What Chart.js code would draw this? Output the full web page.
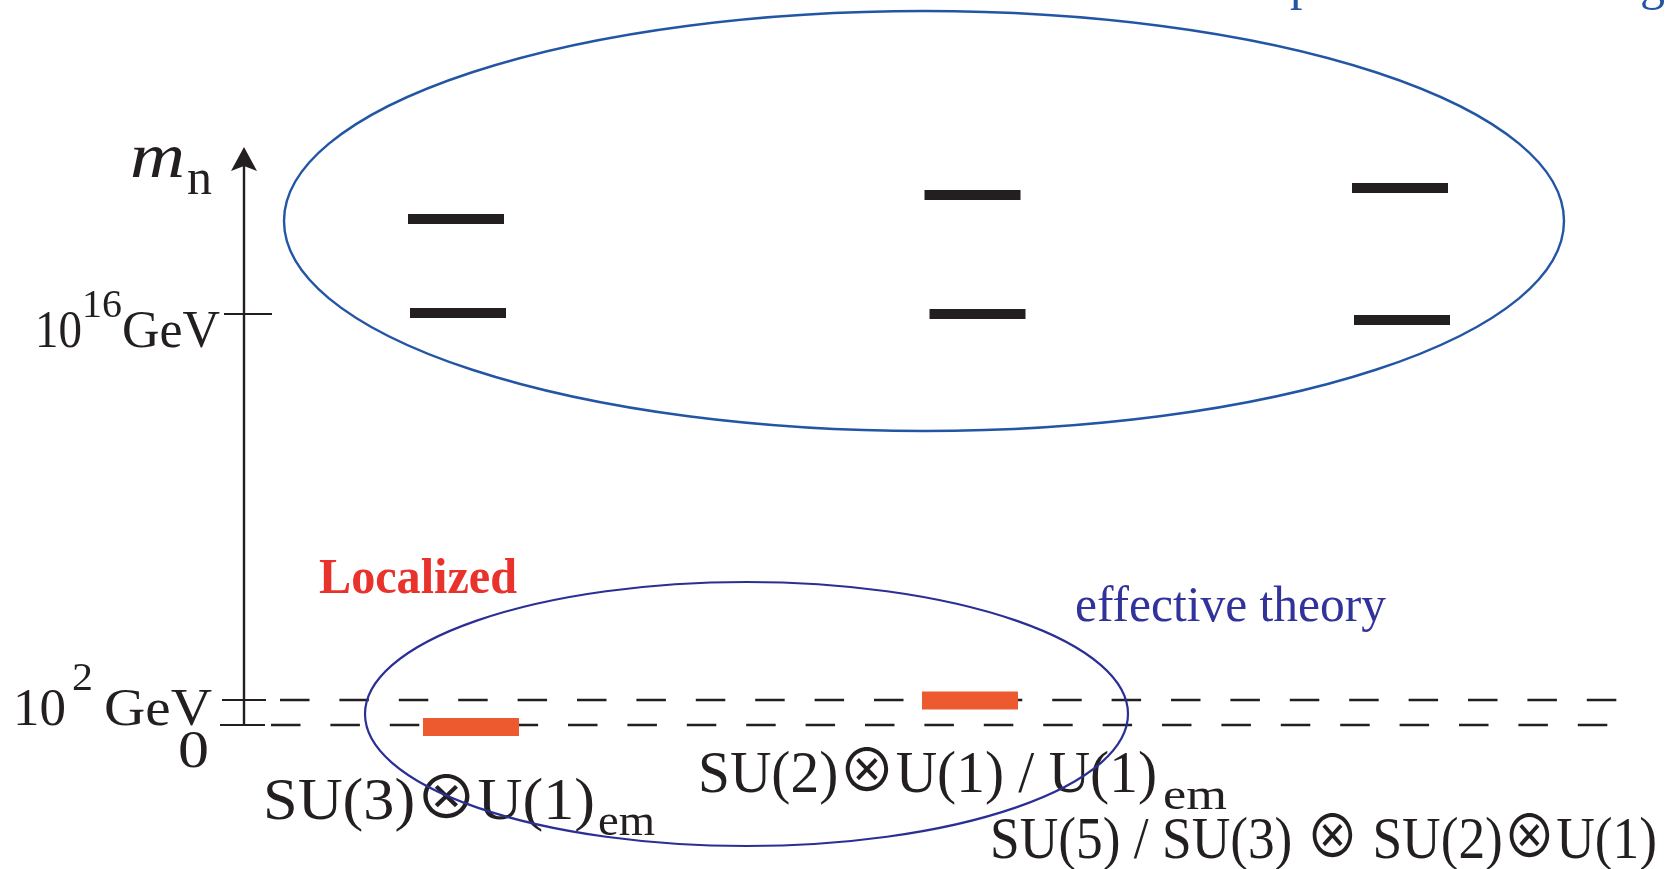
<!DOCTYPE html>
<html>
<head>
<meta charset="utf-8">
<script src="https://cdn.jsdelivr.net/npm/chart.js@4"></script>
<style>
  html, body { margin: 0; padding: 0; background: #ffffff; overflow: hidden; }
  #wrap { width: 1665px; height: 869px; }
</style>
</head>
<body>
<div id="wrap"><canvas id="c" width="1665" height="869"></canvas></div>
<script>
// ---------- DATA (schematic mass levels; y = level units above m = 0) ----------
const columns = ['SU(3)⊗U(1)em', 'SU(2)⊗U(1) / U(1)em', 'SU(5) / SU(3)⊗SU(2)⊗U(1)'];
const heavyUpperX = [456, 972.5, 1400];
const heavyUpperLevel = [506, 530, 537];
const heavyLowerX = [458, 977.5, 1402];
const heavyLowerLevel = [412, 411, 405];
const lightX = [471, 970];
const lightLevel = [-2, 24.5];
const tickLevels = [0, 25, 411];
const tickLabels = ['0', '10^2 GeV', '10^16GeV'];
const barHalfLength = 48;

// ---------- helpers ----------
function seg(cx, lvl, half) { return [{x: cx - half, y: lvl}, {x: cx + half, y: lvl}]; }
const INK = '#231f20';
const datasets = [];
lightX.forEach((cx, i) => datasets.push({
  data: seg(cx, lightLevel[i], barHalfLength), borderColor: '#ee5a2f', borderWidth: 18,
  borderCapStyle: 'butt', pointRadius: 0, order: 0
}));
heavyUpperX.forEach((cx, i) => datasets.push({
  data: seg(cx, heavyUpperLevel[i], barHalfLength), borderColor: INK, borderWidth: 10,
  borderCapStyle: 'butt', pointRadius: 0, order: 1
}));
heavyLowerX.forEach((cx, i) => datasets.push({
  data: seg(cx, heavyLowerLevel[i], barHalfLength), borderColor: INK, borderWidth: 10,
  borderCapStyle: 'butt', pointRadius: 0, order: 1
}));
// dashed reference lines at 0 and 10^2 GeV
datasets.push({ data: [{x: 280, y: tickLevels[1]}, {x: 1620, y: tickLevels[1]}], borderColor: INK,
  borderWidth: 2.5, borderDash: [29.5, 29.9], borderCapStyle: 'butt', pointRadius: 0, order: 5 });
datasets.push({ data: [{x: 271, y: tickLevels[0]}, {x: 1610, y: tickLevels[0]}], borderColor: INK,
  borderWidth: 2.5, borderDash: [29.5, 29.9], borderCapStyle: 'butt', pointRadius: 0, order: 5 });
// solid tick marks on the axis
[[220, 265, 0], [222, 266, 1], [224, 272, 2]].forEach(t => datasets.push({
  data: [{x: t[0], y: tickLevels[t[2]]}, {x: t[1], y: tickLevels[t[2]]}], borderColor: INK,
  borderWidth: 2.2, pointRadius: 0, order: 4 }));

const ellipses = [
  { cx: 924, cy: 504, rx: 640, ry: 210, color: '#2355a5', width: 2.4 },
  { cx: 746.5, cy: 11, rx: 381.5, ry: 132, color: '#2b2f94', width: 2.2 }
];

const SERIF = '"Liberation Serif", "Noto Sans CJK JP", "DejaVu Serif", serif';
const texts = [
  { t: 'm', x: 130, y: 177, font: 'italic 64px ' + SERIF, w: 55, c: INK },
  { t: 'n', x: 187, y: 194, font: '50px ' + SERIF, w: 25, c: INK },
  { t: '10', x: 35, y: 347, font: '53px ' + SERIF, w: 47, c: INK },
  { t: '16', x: 82, y: 317, font: '40px ' + SERIF, w: 40, c: INK },
  { t: 'GeV', x: 122, y: 347, font: '53px ' + SERIF, w: 98, c: INK },
  { t: '10', x: 13, y: 725, font: '53px ' + SERIF, w: 53, c: INK },
  { t: '2', x: 72, y: 690, font: '40px ' + SERIF, w: 21, c: INK },
  { t: 'GeV', x: 104, y: 725, font: '53px ' + SERIF, w: 108, c: INK },
  { t: '0', x: 178, y: 767, font: '53px ' + SERIF, w: 31, c: INK },
  { t: 'SU(3)⊗U(1)', x: 263, y: 819, font: '60px ' + SERIF, w: 332, c: INK },
  { t: 'em', x: 598, y: 835, font: '44px ' + SERIF, w: 57, c: INK },
  { t: 'SU(2)⊗U(1) / U(1)', x: 698, y: 792, font: '60px ' + SERIF, w: 459, c: INK },
  { t: 'em', x: 1163, y: 809, font: '44px ' + SERIF, w: 64, c: INK },
  { t: 'SU(5) / SU(3) ⊗ SU(2)⊗U(1)', x: 990, y: 858, font: '60px ' + SERIF, w: 667, c: INK },
  { t: 'Localized', x: 319, y: 593, font: 'bold 50px ' + SERIF, w: 198, c: '#e8322b' },
  { t: 'effective theory', x: 1075, y: 621, font: '50px ' + SERIF, w: 311, c: '#32339a' },
  { t: 'p', x: 1290, y: -1, font: '50px ' + SERIF, w: 25, c: '#2355a5' },
  { t: 'g', x: 1640, y: -1, font: '50px ' + SERIF, w: 25, c: '#2355a5' }
];

const decor = {
  id: 'decor',
  afterDatasetsDraw(chart) {
    const ctx = chart.ctx;
    const xs = chart.scales.x, ys = chart.scales.y;
    // axis with arrow
    const ax = xs.getPixelForValue(244);
    const y0 = ys.getPixelForValue(0);
    const yTop = 147;
    ctx.save();
    ctx.strokeStyle = INK; ctx.lineWidth = 2.4;
    ctx.beginPath(); ctx.moveTo(ax, y0); ctx.lineTo(ax, yTop + 12); ctx.stroke();
    ctx.fillStyle = INK;
    ctx.beginPath();
    ctx.moveTo(ax, yTop);
    ctx.lineTo(ax + 13, yTop + 24);
    ctx.lineTo(ax, yTop + 19);
    ctx.lineTo(ax - 13, yTop + 24);
    ctx.closePath(); ctx.fill();
    ctx.restore();
    // texts
    texts.forEach(o => {
      ctx.save();
      ctx.font = o.font; ctx.fillStyle = o.c; ctx.textBaseline = 'alphabetic';
      const mw = ctx.measureText(o.t).width;
      ctx.translate(o.x, o.y);
      ctx.scale(o.w / mw, 1);
      ctx.fillText(o.t, 0, 0);
      ctx.restore();
    });
    // ellipses
    ellipses.forEach(e => {
      const cx = xs.getPixelForValue(e.cx), cy = ys.getPixelForValue(e.cy);
      const rx = Math.abs(xs.getPixelForValue(e.cx + e.rx) - cx);
      const ry = Math.abs(ys.getPixelForValue(e.cy + e.ry) - cy);
      ctx.save();
      ctx.strokeStyle = e.color; ctx.lineWidth = e.width;
      ctx.beginPath(); ctx.ellipse(cx, cy, rx, ry, 0, 0, Math.PI * 2); ctx.stroke();
      ctx.restore();
    });
  }
};

new Chart(document.getElementById('c'), {
  type: 'line',
  data: { datasets },
  options: {
    responsive: false, animation: false, devicePixelRatio: 1,
    layout: { padding: 0 },
    plugins: { legend: { display: false }, tooltip: { enabled: false } },
    elements: { line: { tension: 0 } },
    scales: {
      x: { type: 'linear', min: 0, max: 1665, display: false },
      y: { type: 'linear', min: -144, max: 725, display: false }
    }
  },
  plugins: [decor]
});
</script>
</body>
</html>
